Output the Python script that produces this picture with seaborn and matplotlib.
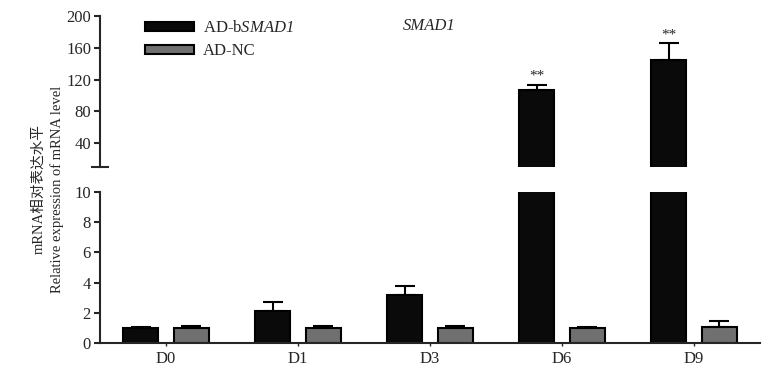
import pandas as pd
import seaborn as sns
from matplotlib import pyplot as plt
from matplotlib.patches import Patch

days = ["D0", "D1", "D3", "D6", "D9"]
groups = ["AD-bSMAD1", "AD-NC"]
smad1_mean = [1.0, 2.1, 3.2, 106.5, 145.0]
smad1_err = [0.05, 0.6, 0.57, 6.4, 20.4]
nc_mean = [1.0, 1.0, 1.0, 1.0, 1.08]
nc_err = [0.1, 0.15, 0.12, 0.05, 0.4]
stars = ["", "", "", "**", "**"]

sns.set_style("ticks")
plt.rcParams["font.family"] = ["Liberation Serif", "Noto Sans CJK SC"]
plt.rcParams["mathtext.fontset"] = "custom"
plt.rcParams["mathtext.it"] = "Liberation Serif:italic"
plt.rcParams["mathtext.rm"] = "Liberation Serif:italic"

df = pd.DataFrame({
    "day": days * 2,
    "group": [groups[0]] * len(days) + [groups[1]] * len(days),
    "value": smad1_mean + nc_mean,
    "err": smad1_err + nc_err,
})
colors = ["#0a0a0a", "#707070"]

fig = plt.figure(figsize=(7.79, 3.76), dpi=100)
ax_top = fig.add_axes([0.1284, 0.5559, 0.8472, 0.4016])
ax_bot = fig.add_axes([0.1284, 0.0878, 0.8472, 0.4016])

for ax in (ax_top, ax_bot):
    sns.barplot(data=df, x="day", y="value", hue="group", hue_order=groups,
                palette=colors, width=0.76, gap=0.3, edgecolor="black",
                linewidth=1.5, errorbar=None, legend=False, saturation=1, ax=ax)
    for bar, (_, row) in zip(ax.patches, df.iterrows()):
        x = bar.get_x() + bar.get_width() / 2
        ax.errorbar(x, row["value"], yerr=[[0], [row["err"]]], color="black",
                    capsize=7, capthick=1.5, elinewidth=1.5, zorder=1)
    ax.set_xlim(-0.5, 4.5)
    ax.set_xlabel("")
    ax.set_ylabel("")
    for s in ("top", "right"):
        ax.spines[s].set_visible(False)
    ax.spines["left"].set_linewidth(1.5)
    ax.spines["bottom"].set_linewidth(1.5)
    ax.tick_params(axis="y", length=4.5, width=1.5, labelsize=12, pad=2)

# lower panel
ax_bot.set_ylim(0, 10)
ax_bot.set_yticks([0, 2, 4, 6, 8, 10])
ax_bot.tick_params(axis="x", length=2, width=1, labelsize=12, pad=4)

# upper panel
ax_top.set_ylim(10, 200)
ax_top.set_yticks([40, 80, 120, 160, 200])
ax_top.set_yticks([10], minor=True)
ax_top.tick_params(axis="y", which="minor", direction="inout", length=13, width=1.5)
ax_top.spines["bottom"].set_visible(False)
ax_top.set_xticks([])

for i, s in enumerate(stars):
    if s:
        bar = ax_top.patches[i]
        x = bar.get_x() + bar.get_width() / 2
        ax_top.text(x, smad1_mean[i] + smad1_err[i] + 3, s, ha="center",
                    va="bottom", fontsize=11)

handles = [Patch(facecolor=c, edgecolor="black", linewidth=1.5) for c in colors]
ax_top.legend(handles, ["AD-b$\\mathit{SMAD1}$", "AD-NC"], loc="upper left",
              bbox_to_anchor=(0.046, 1.07), frameon=False, fontsize=12,
              handlelength=2.9, handleheight=0.45, labelspacing=0.42,
              handletextpad=0.55)
ax_top.text(0.459, 0.936, "SMAD1", style="italic", fontsize=12,
            transform=ax_top.transAxes, ha="left", va="center")

fig.text(0.062, 0.497, "mRNA相对表达水平\nRelative expression of mRNA level",
         rotation=90, ha="center", va="center", fontsize=10.5, linespacing=1.45)

fig.savefig("out.png", dpi=100)
